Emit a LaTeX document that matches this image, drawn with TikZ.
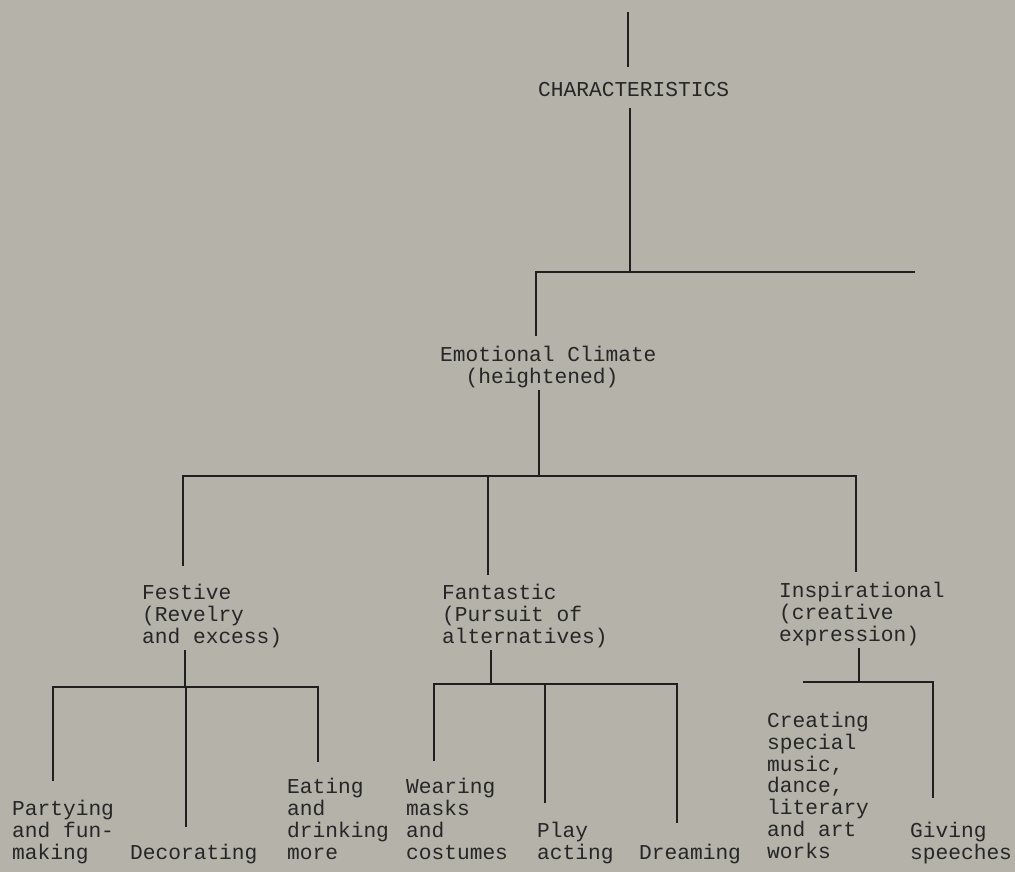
\documentclass[tikz,border=0pt]{standalone}
\usepackage{fontspec}
\setmainfont{Liberation Mono}
\usetikzlibrary{calc}
\definecolor{bg}{RGB}{180,178,169}
\definecolor{ink}{RGB}{38,38,38}
\begin{document}
\begin{tikzpicture}[x=1pt,y=-1pt,
  lbl/.style={anchor=base west, inner sep=0pt, align=left, text=ink,
              font=\fontsize{21.2}{21.7}\selectfont},
  conn/.style={draw=black!88, line width=1.5pt, line join=miter}]
\fill[bg] (0,0) rectangle (1015,872);
\useasboundingbox (0,0) rectangle (1015,872);

% ---- text nodes (anchored at the baseline of their last line) ----
\node[lbl] (char) at (538,97) {CHARACTERISTICS};
\node[lbl] (emo) at (440,383) {Emotional Climate\\\hspace*{25.4pt}(heightened)};
\node[lbl] (fest) at (142,643) {Festive\\(Revelry\\and excess)};
\node[lbl] (fant) at (442,643) {Fantastic\\(Pursuit of\\alternatives)};
\node[lbl] (insp) at (779,641) {Inspirational\\(creative\\expression)};
\node[lbl] (party) at (12,859) {Partying\\and fun-\\making};
\node[lbl] (deco) at (130,859) {Decorating};
\node[lbl] (eat) at (287,859) {Eating\\and\\drinking\\more};
\node[lbl] (wear) at (406,859) {Wearing\\masks\\and\\costumes};
\node[lbl] (play) at (537,859) {Play\\acting};
\node[lbl] (dream) at (639,859) {Dreaming};
\node[lbl] (create) at (767,858) {Creating\\special\\music,\\dance,\\literary\\and art\\works};
\node[lbl] (give) at (910,859) {Giving\\speeches};

% ---- connector end points ----
\coordinate (topA) at (628,12);  \coordinate (topB) at (628,67);
\coordinate (s1a) at (630,108);  \coordinate (s1b) at (630,272);
\coordinate (b1l) at (536,272);  \coordinate (b1r) at (915,272);
\coordinate (emoIn) at (536,336);

\coordinate (s2a) at (539,390);  \coordinate (s2b) at (539,476);
\coordinate (b2l) at (183,476);  \coordinate (b2m) at (488,476);  \coordinate (b2r) at (856,476);
\coordinate (festIn) at (183,566); \coordinate (fantIn) at (488,575); \coordinate (inspIn) at (856,572);

\coordinate (s3a) at (185,650);  \coordinate (s3b) at (185,687);
\coordinate (b3l) at (53,687);   \coordinate (b3m) at (186,687);  \coordinate (b3r) at (318,687);
\coordinate (partyIn) at (53,781); \coordinate (decoIn) at (186,827); \coordinate (eatIn) at (318,762);

\coordinate (s4a) at (491,650);  \coordinate (s4b) at (491,684);
\coordinate (b4l) at (434,684);  \coordinate (b4m) at (545,684);  \coordinate (b4r) at (677,684);
\coordinate (wearIn) at (434,761); \coordinate (playIn) at (545,803); \coordinate (dreamIn) at (677,823);

\coordinate (s5a) at (859,648);  \coordinate (s5b) at (859,682);
\coordinate (b5l) at (803,682);  \coordinate (b5r) at (933,682);
\coordinate (giveIn) at (933,798);

% ---- connectors ----
\draw[conn] (topA) -- (topB);
\draw[conn] (s1a) -- (s1b);
\draw[conn] (emoIn) -- (b1l) -- (b1r);

\draw[conn] (s2a) -- (s2b);
\draw[conn] (festIn) -- (b2l) -- (b2r) -- (inspIn);
\draw[conn] (b2m) -- (fantIn);

\draw[conn] (s3a) -- (s3b);
\draw[conn] (partyIn) -- (b3l) -- (b3r) -- (eatIn);
\draw[conn] (b3m) -- (decoIn);

\draw[conn] (s4a) -- (s4b);
\draw[conn] (wearIn) -- (b4l) -- (b4r) -- (dreamIn);
\draw[conn] (b4m) -- (playIn);

\draw[conn] (s5a) -- (s5b);
\draw[conn] (b5l) -- (b5r) -- (giveIn);
\end{tikzpicture}
\end{document}
